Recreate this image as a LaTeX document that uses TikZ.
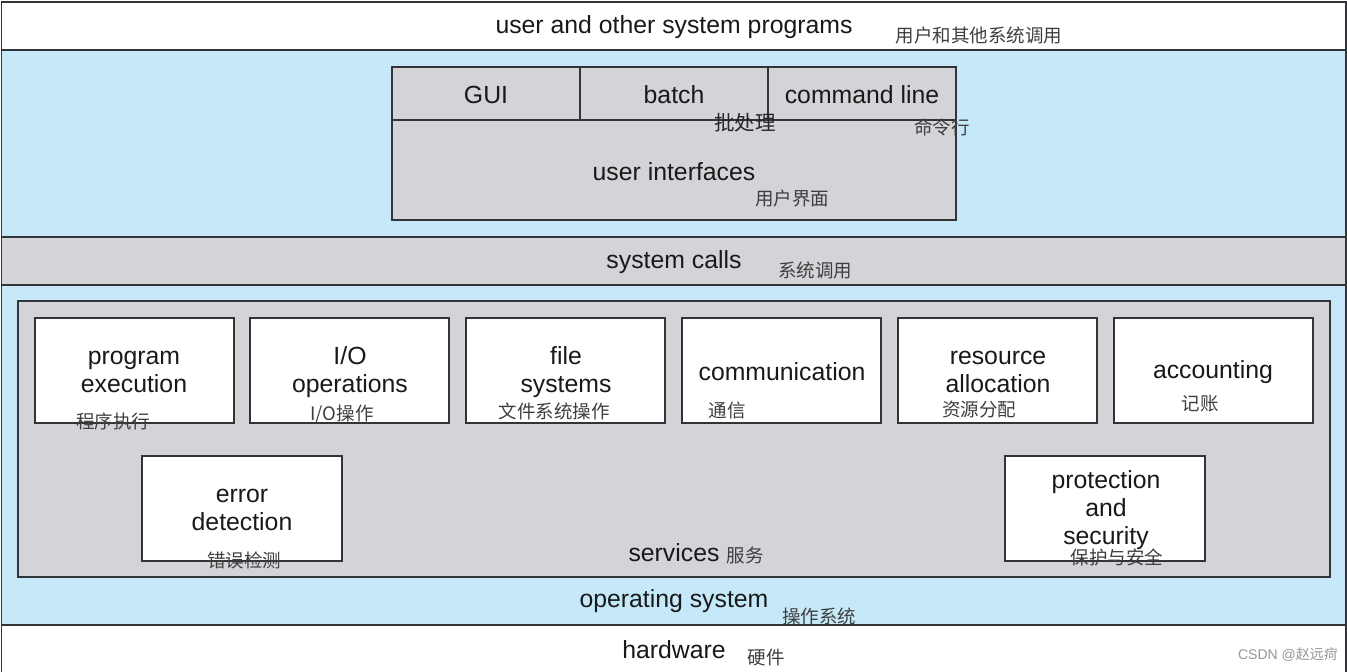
\documentclass[tikz,border=0pt]{standalone}
\usepackage{fontspec}
\setmainfont{Liberation Sans}
\newfontfamily\cjk{Noto Sans CJK SC}
\definecolor{osblue}{RGB}{198,233,250}
\definecolor{osgray}{RGB}{210,212,215}
\definecolor{osline}{RGB}{50,52,56}
\definecolor{cntext}{RGB}{62,62,62}
\definecolor{entext}{RGB}{25,25,25}
\definecolor{wmark}{RGB}{150,150,150}
\tikzset{
  band/.style={draw=osline, line width=1.2pt, inner sep=0pt, outer sep=0pt},
  boxw/.style={band, fill=white},
  boxg/.style={band, fill=osgray},
  boxb/.style={band, fill=osblue},
  en/.style={font=\fontsize{24.8}{28}\selectfont, text=entext, align=center, inner sep=0pt},
  cn/.style={font=\cjk\fontsize{18.5}{20}\selectfont, text=cntext, inner sep=0pt},
  cnb/.style={font=\cjk\fontsize{20.5}{22}\selectfont, text=black!85, inner sep=0pt},
}
\newcommand{\rbox}[6]{% style, name, x1, y1, x2, y2
  \node[#1, minimum width={(#5-#3)*1pt}, minimum height={(#6-#4)*1pt}, anchor=north west] (#2) at (#3,#4) {};}
\begin{document}
\begin{tikzpicture}[x=1pt,y=-1pt]
\useasboundingbox (0,0) rectangle (1347,672);
\fill[white] (0,0) rectangle (1347,672);
% bands
\rbox{boxw}{top}{1.5}{2}{1346}{50}
\rbox{boxb}{ui}{1.5}{50}{1346}{237}
\rbox{boxg}{sc}{1.5}{237}{1346}{285}
\rbox{boxb}{os}{1.5}{285}{1346}{625}
\rbox{boxw}{hw}{1.5}{625}{1346}{676}
% user interfaces box
\rbox{boxg}{uibox}{392}{67}{956}{220}
\rbox{boxg}{gui}{392}{67}{580}{120}
\rbox{boxg}{batch}{580}{67}{768}{120}
\rbox{boxg}{cmd}{768}{67}{956}{120}
% services
\rbox{boxg}{serv}{18}{301}{1330}{577}
\rbox{boxw}{pe}{35}{318}{234}{423}
\rbox{boxw}{io}{250}{318}{449}{423}
\rbox{boxw}{fs}{466}{318}{665}{423}
\rbox{boxw}{comm}{682}{318}{881}{423}
\rbox{boxw}{ra}{898}{318}{1097}{423}
\rbox{boxw}{acc}{1114}{318}{1313}{423}
\rbox{boxw}{ed}{142}{456}{342}{561}
\rbox{boxw}{ps}{1005}{456}{1205}{561}
% English labels
\node[en] (t1) at (674,27) {user and other system programs};
\node[en] (t2) at (486,95) {GUI};
\node[en] (t3) at (674,95) {batch};
\node[en] (t4) at (862,95) {command line};
\node[en] (t5) at (674,172) {user interfaces};
\node[en] (t6) at (674,262) {system calls};
\node[en] (t7) at (134,372) {program\\execution};
\node[en] (t8) at (350,372) {I/O\\operations};
\node[en] (t9) at (566,372) {file\\systems};
\node[en] (t10) at (782,372) {communication};
\node[en] (t11) at (998,372) {resource\\allocation};
\node[en] (t12) at (1213,372) {accounting};
\node[en] (t13) at (242,510) {error\\detection};
\node[en] (t14) at (1106,510) {protection\\and\\security};
\node[en] (t15) at (674,553) {services};
\node[en] (t16) at (674,601) {operating system};
\node[en] (t17) at (674,650) {hardware};
% Chinese labels
\node[cn] (c1) at (979,35) {用户和其他系统调用};
\node[cnb] (c2) at (745,123) {批处理};
\node[cn] (c3) at (942,127) {命令行};
\node[cn] (c4) at (792,198) {用户界面};
\node[cn] (c5) at (815,270) {系统调用};
\node[cn] (c6) at (113,421) {程序执行};
\node[cn] (c7) at (342,414) {I/O操作};
\node[cn] (c8) at (554,411) {文件系统操作};
\node[cn] (c9) at (727,410) {通信};
\node[cn] (c10) at (979,410) {资源分配};
\node[cn] (c11) at (1200,404) {记账};
\node[cn] (c12) at (244,560) {错误检测};
\node[cn] (c13) at (1117,557) {保护与安全};
\node[cn] (c14) at (745,555) {服务};
\node[cn] (c15) at (819,616) {操作系统};
\node[cn] (c16) at (766,658) {硬件};
\node[font=\fontsize{14}{16}\selectfont, text=wmark, inner sep=0pt] (wm) at (1288,655) {CSDN @{\cjk 赵远疴}};
\end{tikzpicture}
\end{document}
